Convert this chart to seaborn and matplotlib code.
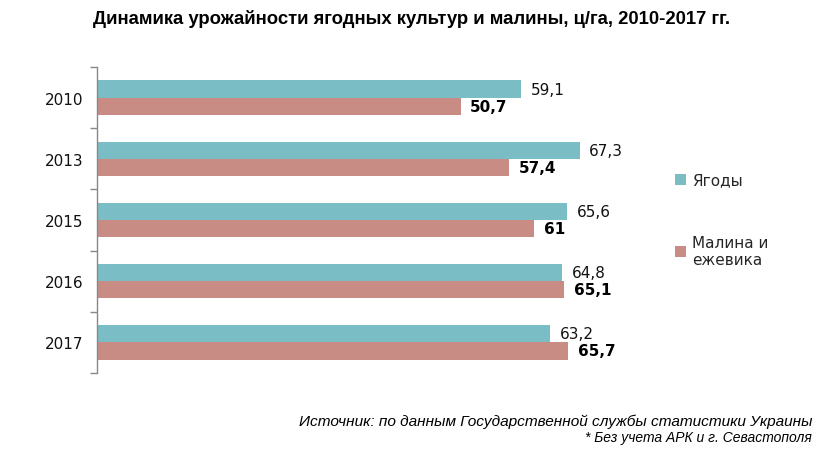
import pandas as pd
import matplotlib.pyplot as plt
import seaborn as sns
from matplotlib.ticker import FixedLocator

years = ["2010", "2013", "2015", "2016", "2017"]
berries = [59.1, 67.3, 65.6, 64.8, 63.2]
raspberry = [50.7, 57.4, 61, 65.1, 65.7]
series_names = ["Ягоды", "Малина и\nежевика"]
colors = ["#7BBDC5", "#C98C85"]

df = pd.DataFrame({
    "year": years * 2,
    "value": berries + raspberry,
    "series": [series_names[0]] * len(years) + [series_names[1]] * len(years),
})

sns.set_style("white")
plt.rcParams["font.family"] = ["DejaVu Sans"]

fig = plt.figure(figsize=(8.39, 4.52), dpi=100)
ax = fig.add_axes([0.1156, 0.1726, 0.647, 0.677])

sns.barplot(data=df, x="value", y="year", hue="series", orient="h",
            palette=colors, width=0.56, saturation=1, linewidth=0,
            edgecolor="none", ax=ax, legend=True)

ax.set_xlim(0, 75.7)
ax.set_ylim(len(years) - 0.5, -0.5)
ax.set_xlabel("")
ax.set_ylabel("")
ax.set_xticks([])

def fmt(v):
    return (f"{v:g}").replace(".", ",")

ax.bar_label(ax.containers[0], labels=[fmt(v) for v in berries],
             padding=7, fontsize=11, color="#111111")
ax.bar_label(ax.containers[1], labels=[fmt(v) for v in raspberry],
             padding=7, fontsize=11, fontweight="bold", color="#000000")

for side in ["top", "right", "bottom"]:
    ax.spines[side].set_visible(False)
ax.spines["left"].set_color("#888888")
ax.spines["left"].set_linewidth(1)

ax.tick_params(axis="y", which="major", length=0, labelsize=11, pad=10,
               labelcolor="#111111")
ax.yaxis.set_minor_locator(FixedLocator([i - 0.5 for i in range(len(years) + 1)]))
ax.tick_params(axis="y", which="minor", length=5, color="#888888", width=1, left=True)

handles, labels = ax.get_legend_handles_labels()
ax.legend(handles, labels, loc="center left", bbox_to_anchor=(1.045, 0.5),
          frameon=False, fontsize=11, handlelength=0.7, handleheight=0.7,
          handletextpad=0.4, labelspacing=3.1, borderaxespad=0.3)

fig.text(0.49, 0.958, "Динамика урожайности ягодных культур и малины, ц/га, 2010-2017 гг.",
         ha="center", va="center", fontsize=13.3, fontweight="bold", color="black",
         family=["Liberation Sans", "DejaVu Sans"])
fig.text(0.968, 0.066, "Источник: по данным Государственной службы статистики Украины",
         ha="right", va="center", fontsize=11.1, style="italic", color="black",
         family=["Liberation Sans", "DejaVu Sans"])
fig.text(0.968, 0.030, "* Без учета АРК и г. Севастополя",
         ha="right", va="center", fontsize=10, style="italic", color="black",
         family=["Liberation Sans", "DejaVu Sans"])

fig.savefig("out.png", dpi=100)
